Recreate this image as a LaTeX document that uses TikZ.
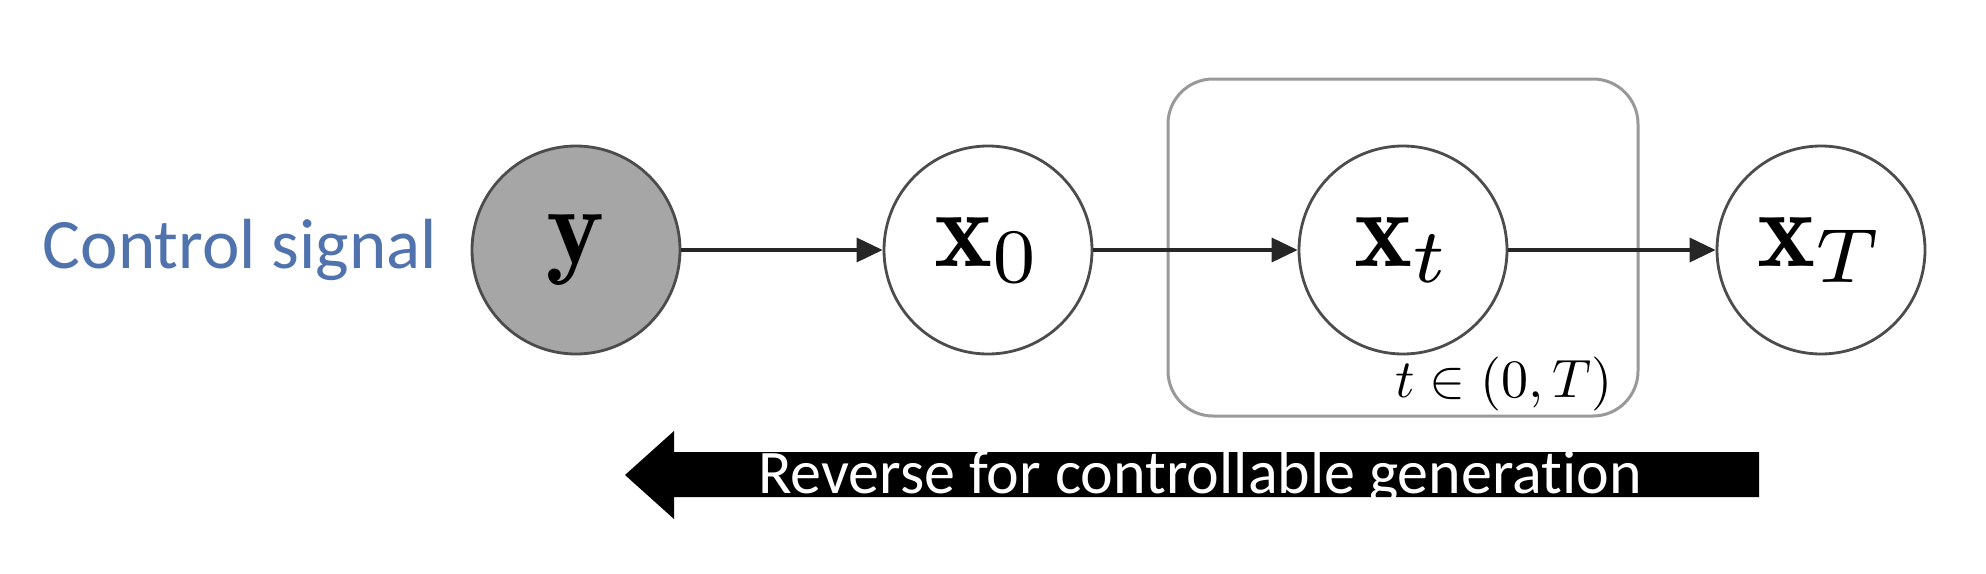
\documentclass[tikz,border=0pt]{standalone}
\usepackage{fontspec}
\newfontfamily\calib[Ligatures={NoCommon}]{Carlito}
\usetikzlibrary{arrows.meta}
\definecolor{ctrlblue}{HTML}{5173AD}
\newcommand{\scaledmath}[2]{\scalebox{#1}{$#2$}}
\begin{document}
\begin{tikzpicture}[x=1pt,y=-1pt,
  var/.style={circle, draw=black!70, line width=2.8pt, minimum size=208pt, inner sep=0pt},
  obs/.style={var, fill=black!35},
  edge/.style={draw=black!85, line width=3.5pt, -{Triangle[length=26pt,width=24pt]}},
  plate/.style={draw=black!40, line width=3pt, rounded corners=45pt, minimum width=470pt, minimum height=337pt, inner sep=0pt},
  bigarrow/.style={fill=black}]
\useasboundingbox (0,0) rectangle (1986,573);
\fill[white] (0,0) rectangle (1986,573);
\node[plate] (plate) at (1403,247.5) {};
\node[obs] (y) at (576,250) {\scaledmath{11}{\mathbf{y}}};
\node[var] (x0) at (988,250) {\scaledmath{11}{\mathbf{x}_0}};
\node[var] (xt) at (1403,250) {\scaledmath{11}{\mathbf{x}_t}};
\node[var] (xT) at (1821,250) {\scaledmath{11}{\mathbf{x}_T}};
\draw[edge] (y) -- (x0);
\draw[edge] (x0) -- (xt);
\draw[edge] (xt) -- (xT);
\node[inner sep=0pt] (tlab) at (1504,384) {\scaledmath{5.4}{t\in(0,T)}};
\node[font=\calib\fontsize{71}{80}\selectfont, text=ctrlblue, inner sep=0pt] (ctrl) at (240,250) {Control signal};
\fill[bigarrow] (625,475) -- (674,431) -- (674,452) -- (1759,452) -- (1759,497) -- (674,497) -- (674,519) -- cycle;
\node[font=\calib\fontsize{62}{70}\selectfont, text=white, inner sep=0pt] (rev) at (1200,477) {Reverse for controllable generation};
\end{tikzpicture}
\end{document}
